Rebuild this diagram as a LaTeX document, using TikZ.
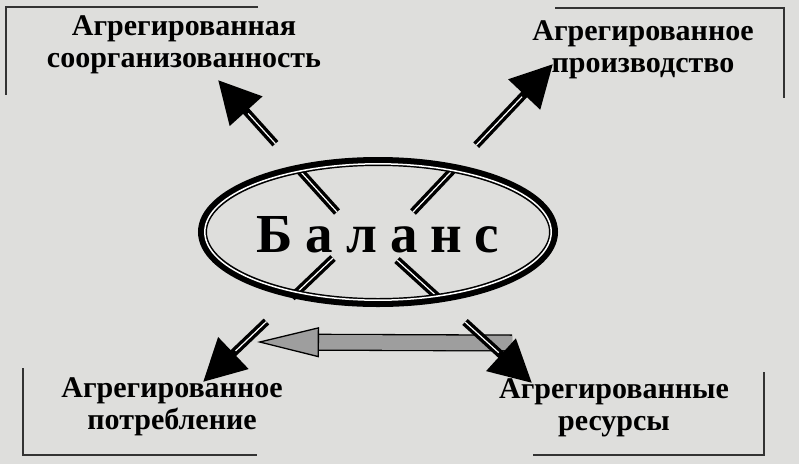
\documentclass[tikz,border=0pt]{standalone}
\usepackage{fontspec}
\setmainfont{Liberation Serif}
\newfontfamily\spacedfont[LetterSpace=23]{Liberation Serif}
\usetikzlibrary{shapes.geometric,arrows.meta}
\definecolor{paper}{RGB}{222,222,220}
\definecolor{shade}{RGB}{158,158,158}

\begin{document}
\begin{tikzpicture}[x=1pt, y=-1pt,
    lbl/.style={font=\bfseries\fontsize{30}{32}\selectfont, align=center, inner sep=0pt},
    ring/.style={ellipse, draw, line width=9pt, minimum width=351pt, minimum height=141pt, inner sep=0pt},
    word/.style={font=\spacedfont\bfseries\fontsize{55}{55}\selectfont, inner sep=0pt},
    flow/.style={draw=black, line width=8pt, dash pattern=on 57pt off 35pt on 500pt,
        -{Triangle[length=42pt, width=42pt]},
        postaction={draw=white, line width=1.2pt, -, shorten >=45pt}},
    swap/.style={draw=black, line width=1.3pt, double=shade, double distance=14.5pt,
        -{Triangle[length=62pt, width=30pt, fill=shade]}},
    frame/.style={draw=black!80, line width=1.5pt}]

    \fill[paper] (0,0) rectangle (799,464);

    % Labels
    \node[lbl] (sorg) at (184,45) {Агрегированная\\соорганизованность};
    \node[lbl] (proizv) at (643,50) {Агрегированное\\производство};
    \node[lbl] (potr) at (172,407) {Агрегированное\\потребление};
    \node[lbl] (res) at (614,408) {Агрегированные\\ресурсы};

    % Brackets
    \draw[frame] (258,7) -| (6,95);
    \draw[frame] (555,8) -| (784,98);
    \draw[frame] (23,368) |- (257,455);
    \draw[frame] (533,455) -| (764,372);

    % Arrow ends
    \coordinate (tlIn) at (337,212);
    \coordinate (tlTip) at (218,80);
    \coordinate (trIn) at (413,212);
    \coordinate (trTip) at (553,64);
    \coordinate (blIn) at (333,258);
    \coordinate (blTip) at (203,382);
    \coordinate (brIn) at (397,260);
    \coordinate (brTip) at (532,383);
    \coordinate (swapFrom) at (512,343);
    \coordinate (swapTo) at (257,342);

    % Grey arrow
    \draw[swap] (swapFrom) -- (swapTo);

    % Arrows
    \draw[flow] (tlIn) -- (tlTip);
    \draw[flow] (trIn) -- (trTip);
    \draw[flow] (blIn) -- (blTip);
    \draw[flow] (brIn) -- (brTip);

    % Balance
    \node[ring] (bal) at (378,232) {};
    \draw[white, line width=1.5pt] (bal.center) ellipse (173.2 and 68.2);
    \node[word] (baltxt) at (378,235) {Баланс};
\end{tikzpicture}
\end{document}
